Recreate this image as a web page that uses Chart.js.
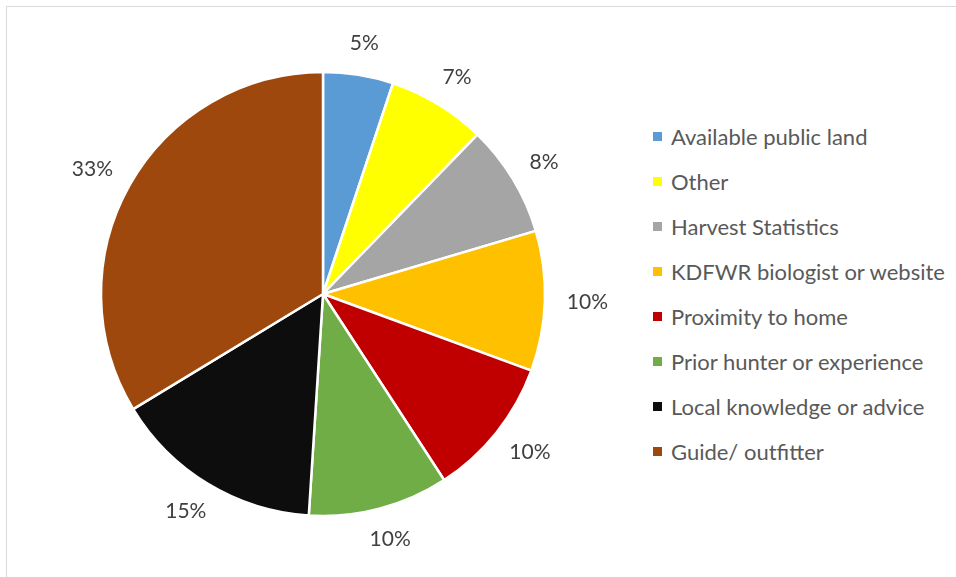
<!DOCTYPE html>
<html>
<head>
<meta charset="utf-8">
<script src="https://cdn.jsdelivr.net/npm/chart.js@4"></script>
<style>
  html, body { margin: 0; padding: 0; background: #fff; }
  #wrap { position: relative; width: 956px; height: 577px; overflow: hidden; }
  #frame { position: absolute; left: 6px; top: 6px; width: 960px; height: 600px;
           border-left: 1.5px solid #d9d9d9; border-top: 1.5px solid #d9d9d9; }
  #chartBox { position: absolute; left: 0; top: 0; width: 646px; height: 577px; }
  #legend { position: absolute; left: 653px; top: 114px; font-family: Lato, "Open Sans", sans-serif;
            font-size: 22px; color: #595959; }
  .row { height: 45px; display: flex; align-items: center; white-space: nowrap; }
  .sw { width: 9px; height: 9px; margin-right: 9px; flex: none; }
</style>
</head>
<body>
<div id="wrap">
  <div id="frame"></div>
  <div id="chartBox"><canvas id="c"></canvas></div>
  <div id="legend"></div>
</div>
<script>
const categories = ["Available public land", "Other", "Harvest Statistics", "KDFWR biologist or website",
  "Proximity to home", "Prior hunter or experience", "Local knowledge or advice", "Guide/ outfitter"];
const values = [5, 7, 8, 10, 10, 10, 15, 33];
const pctLabels = ["5%", "7%", "8%", "10%", "10%", "10%", "15%", "33%"];
const colors = ["#5B9BD5", "#FFFF00", "#A5A5A5", "#FFC000", "#C00000", "#70AD47", "#0D0D0D", "#9E480E"];

const outLabels = {
  id: 'outLabels',
  afterDatasetsDraw(chart) {
    const ctx = chart.ctx;
    const meta = chart.getDatasetMeta(0);
    ctx.save();
    ctx.font = '21px Lato, "Open Sans", sans-serif';
    ctx.fillStyle = '#404040';
    ctx.textAlign = 'center';
    ctx.textBaseline = 'middle';
    const h = 20;
    meta.data.forEach((arc, i) => {
      const p = arc.getProps(['x', 'y', 'startAngle', 'endAngle', 'outerRadius'], true);
      const mid = (p.startAngle + p.endAngle) / 2;
      const dx = Math.cos(mid), dy = Math.sin(mid);
      const w = ctx.measureText(pctLabels[i]).width;
      const r = p.outerRadius + 22;
      ctx.fillText(pctLabels[i], p.x + dx * r + dx * w / 2, p.y + dy * r + dy * h / 2);
    });
    ctx.restore();
  }
};

new Chart(document.getElementById('c'), {
  type: 'pie',
  data: {
    labels: categories,
    datasets: [{
      data: values,
      backgroundColor: colors,
      borderColor: '#ffffff',
      borderWidth: 2.5,
      radius: 222
    }]
  },
  options: {
    responsive: true,
    maintainAspectRatio: false,
    animation: false,
    layout: { padding: { top: 11, bottom: 0, left: 0, right: 0 } },
    plugins: { legend: { display: false }, tooltip: { enabled: false } }
  },
  plugins: [outLabels]
});

const leg = document.getElementById('legend');
categories.forEach((name, i) => {
  const row = document.createElement('div');
  row.className = 'row';
  const sw = document.createElement('span');
  sw.className = 'sw';
  sw.style.background = colors[i];
  const t = document.createElement('span');
  t.textContent = name;
  row.appendChild(sw); row.appendChild(t);
  leg.appendChild(row);
});
</script>
</body>
</html>
